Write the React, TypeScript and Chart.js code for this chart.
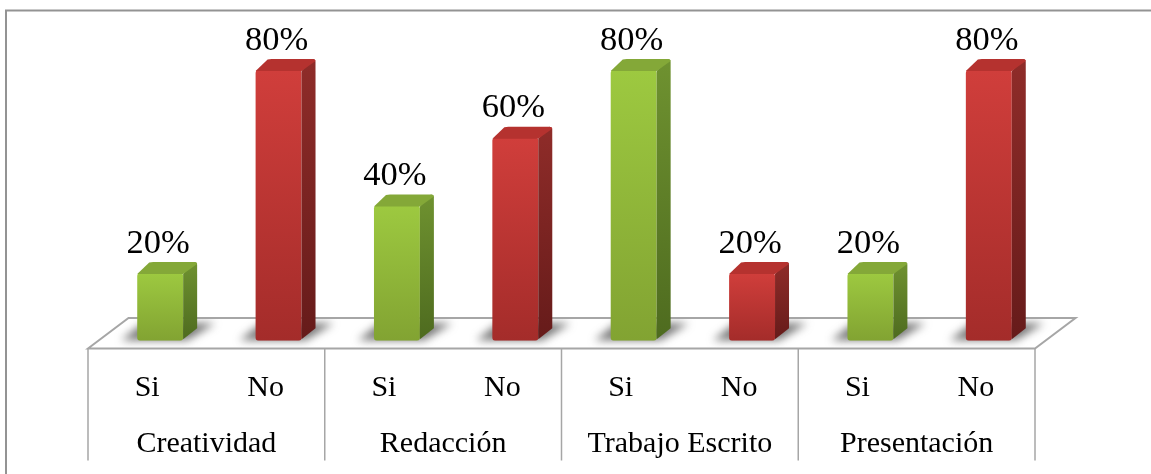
import React, { useEffect, useRef } from "react";
import { Chart, registerables } from "chart.js";

Chart.register(...registerables);

const pointLabels = ["Si", "No", "Si", "No", "Si", "No", "Si", "No"];
const groupLabels = ["Creatividad", "Redacción", "Trabajo Escrito", "Presentación"];
const values = [20, 80, 40, 60, 80, 20, 20, 80];

const FONT = '"Liberation Serif", "Times New Roman", serif';
const GREY = "#a6a6a6";
const DX = 14;
const DY = 11;
const SHIFT = 13;
const DIVIDER_END = 460.5;

const isGreen = (i: number) => pointLabels[i] === "Si";

function vgrad(ctx: CanvasRenderingContext2D, y0: number, y1: number, a: string, b: string) {
  const g = ctx.createLinearGradient(0, y0, 0, y1);
  g.addColorStop(0, a);
  g.addColorStop(1, b);
  return g;
}

const scenery = {
  id: "scenery",
  beforeDatasetsDraw(chart: any) {
    const { ctx, chartArea } = chart;
    const left = chartArea.left - SHIFT;
    const right = chartArea.right - SHIFT;
    const front = 348.5;
    const back = 318;
    const dx = 40.5;
    ctx.save();
    // outer frame
    ctx.strokeStyle = "#939393";
    ctx.lineWidth = 2;
    ctx.beginPath();
    ctx.moveTo(6, 474);
    ctx.lineTo(6, 10.5);
    ctx.lineTo(1151, 10.5);
    ctx.stroke();
    // floor
    ctx.fillStyle = "#ffffff";
    ctx.beginPath();
    ctx.moveTo(left, front);
    ctx.lineTo(left + dx, back);
    ctx.lineTo(right + dx, back);
    ctx.lineTo(right, front);
    ctx.closePath();
    ctx.fill();
    // shadows on the floor
    const meta = chart.getDatasetMeta(0);
    meta.data.forEach((bar: any) => {
      const l = bar.x - bar.width / 2;
      const r = bar.x + bar.width / 2;
      const b = bar.base - 1.5;
      ctx.save();
      ctx.beginPath();
      ctx.moveTo(left + 1, front - 1);
      ctx.lineTo(left + dx, back + 1);
      ctx.lineTo(right + dx - 1, back + 1);
      ctx.lineTo(right, front - 1);
      ctx.closePath();
      ctx.clip();
      ctx.filter = "blur(4px)";
      ctx.fillStyle = "rgba(80,80,80,0.78)";
      ctx.beginPath();
      ctx.moveTo(l - 16, b + 1);
      ctx.lineTo(l + 6, b - 16);
      ctx.lineTo(r + DX + 18, b - 16);
      ctx.lineTo(r + 4, b + 1);
      ctx.closePath();
      ctx.fill();
      ctx.restore();
    });
    // floor outline
    ctx.strokeStyle = GREY;
    ctx.lineWidth = 2;
    ctx.beginPath();
    ctx.moveTo(left, front);
    ctx.lineTo(left + dx, back);
    ctx.lineTo(right + dx, back);
    ctx.lineTo(right, front);
    ctx.closePath();
    ctx.stroke();
    // dividers between the groups
    ctx.lineWidth = 1.5;
    ctx.beginPath();
    for (let i = 0; i <= groupLabels.length; i++) {
      const x = left + (i * (right - left)) / groupLabels.length;
      ctx.moveTo(x, front);
      ctx.lineTo(x, DIVIDER_END);
    }
    ctx.stroke();
    ctx.restore();
  },
  afterDatasetsDraw(chart: any) {
    const { ctx } = chart;
    const meta = chart.getDatasetMeta(0);
    ctx.save();
    meta.data.forEach((bar: any, i: number) => {
      const l = bar.x - bar.width / 2;
      const r = bar.x + bar.width / 2;
      const t = bar.y;
      const b = bar.base - 1.5;
      const green = isGreen(i);
      // right-hand face
      ctx.fillStyle = green
        ? vgrad(ctx, t - DY, b, "#6f9230", "#4e6b1f")
        : vgrad(ctx, t - DY, b, "#8f2c29", "#661b1a");
      ctx.beginPath();
      ctx.moveTo(r, t + 1);
      ctx.lineTo(r + DX - 3, t - DY);
      ctx.quadraticCurveTo(r + DX, t - DY, r + DX, t - DY + 3);
      ctx.lineTo(r + DX, b - DY);
      ctx.lineTo(r, b);
      ctx.closePath();
      ctx.fill();
      // top face
      ctx.fillStyle = green ? "#84a838" : "#b5322f";
      ctx.beginPath();
      ctx.moveTo(l, t + 1);
      ctx.lineTo(l + DX - 2, t - DY + 0.5);
      ctx.quadraticCurveTo(l + DX, t - DY, l + DX + 2, t - DY);
      ctx.lineTo(r + DX - 3, t - DY);
      ctx.quadraticCurveTo(r + DX, t - DY, r + DX, t - DY + 2);
      ctx.lineTo(r, t + 1);
      ctx.closePath();
      ctx.fill();
      // value label
      ctx.fillStyle = "#000000";
      ctx.font = `34.5px ${FONT}`;
      ctx.textAlign = "center";
      ctx.textBaseline = "alphabetic";
      ctx.fillText(`${values[i]}%`, bar.x - 2, t - 20.5);
    });
    ctx.restore();
  },
};

export default function App() {
  const ref = useRef<HTMLCanvasElement | null>(null);
  useEffect(() => {
    document.body.style.margin = "0";
    const canvas = ref.current!;
    const chart = new Chart(canvas, {
      type: "bar",
      data: {
        labels: pointLabels,
        datasets: [
          {
            data: values,
            barPercentage: 0.388,
            categoryPercentage: 1,
            borderRadius: 3,
            borderSkipped: false,
            backgroundColor: (c: any) => {
              const green = isGreen(c.dataIndex);
              const yScale = c.chart.scales.y;
              const top = yScale ? yScale.getPixelForValue(values[c.dataIndex]) : NaN;
              if (!Number.isFinite(top) || !Number.isFinite(yScale.bottom)) {
                return green ? "#8fb639" : "#ba3533";
              }
              return vgrad(
                c.chart.ctx,
                top,
                yScale.bottom,
                green ? "#9dc940" : "#d03e3b",
                green ? "#82a332" : "#a42c2a",
              );
            },
          },
        ],
      },
      options: {
        responsive: false,
        animation: false,
        layout: { padding: { left: 101, right: 103, top: 2.4, bottom: 11.3 } },
        plugins: { legend: { display: false }, tooltip: { enabled: false }, title: { display: false } },
        scales: {
          y: { display: false, min: 0, max: 100 },
          x: {
            weight: 0,
            grid: { display: false },
            border: { display: false },
            ticks: {
              color: "#000000",
              font: { family: FONT, size: 30 },
              labelOffset: -SHIFT,
              padding: 21,
              autoSkip: false,
              maxRotation: 0,
            },
            afterFit: (s: any) => { s.height = 60; },
          },
          x2: {
            type: "category",
            labels: groupLabels,
            offset: true,
            position: "bottom",
            weight: 1,
            grid: { display: false },
            border: { display: false },
            ticks: {
              color: "#000000",
              font: { family: FONT, size: 30 },
              labelOffset: -SHIFT,
              padding: 17,
              autoSkip: false,
              maxRotation: 0,
            },
            afterFit: (s: any) => { s.height = 62; },
          },
        },
      } as any,
      plugins: [scenery],
    });
    return () => chart.destroy();
  }, []);
  return (
    <div style={{ width: 1151, height: 474, background: "#fff" }}>
      <canvas ref={ref} width={1151} height={474} style={{ display: "block" }} />
    </div>
  );
}
